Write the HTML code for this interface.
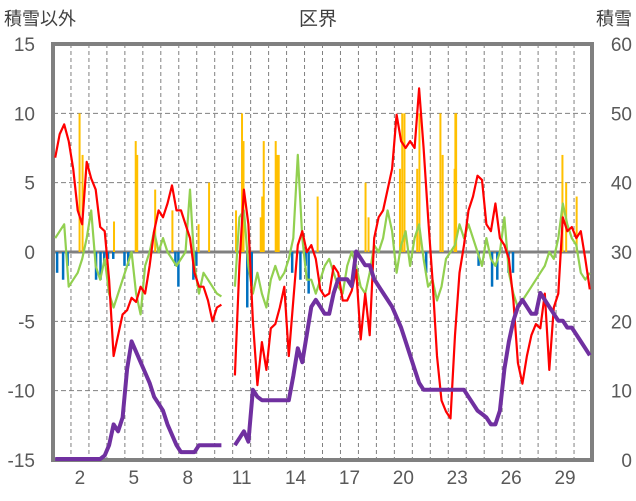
<!DOCTYPE html>
<html><head><meta charset="utf-8"><style>
html,body{margin:0;padding:0;background:#fff;}
svg{display:block;font-family:"Liberation Sans","Noto Sans CJK JP",sans-serif;}
</style></head><body>
<svg id="chart" width="636" height="501" viewBox="0 0 636 501">
<text x="318" y="25" text-anchor="middle" font-size="19" fill="#404040">区界</text>
<text x="4" y="25" font-size="18" fill="#404040">積雪以外</text>
<text x="632" y="25" text-anchor="end" font-size="18" fill="#404040">積雪</text>
<g id="grid"></g>
<rect x="53" y="44" width="539" height="416" fill="none" stroke="#808080" stroke-width="4"/>
<g id="bars"></g><g id="lines"></g><g id="ticks"></g>
</svg>
<script>
const leftTicks=[15,10,5,0,-5,-10,-15];
const rightTicks=[60,50,40,30,20,10,0];
const dayLabels=[2,5,8,11,14,17,20,23,26,29];
const redSeries=[6.8,8.5,9.2,8,6,3,2,6.5,5.3,4.5,1.8,1.5,-2,-7.5,-6,-4.5,-4.2,-3.3,-3.6,-2.5,-3,-1,1.5,3,2.5,3.5,4.8,3,3,2,1,-1.5,-2.5,-2.5,-3.5,-5,-4,-3.8,null,null,-8.9,-1,4.5,2,-5,-9.6,-6.5,-8.5,-5.5,-5.2,-4,-2.5,-7.5,-3.5,0.5,1.5,0,0.5,-0.5,-2.7,-3.2,-3,-1,-1.5,-3.5,-3.5,-2.8,-1.3,-6.3,-3,-6,1,2.5,3,4.5,6,9.9,8,7.5,8,7.5,11.8,7.5,2.5,-2,-7.5,-10.7,-11.5,-12,-6,-1.5,0.5,3,4,5.5,5.2,2,1.5,3.5,1,0.5,-0.5,-3.5,-8,-9.5,-7.5,-6,-5.2,-5.5,-3,-8.5,-4,-3,2.5,1.5,1.8,1,1.5,-0.5,-2.7];
const greenSeries=[1,1.5,2,-2.5,-2,-1.5,-0.5,1,3,-1,-2,-0.5,-3,-4,-3,-2,-1,0,-3,-4.5,-1,0,1.5,0,1,0,-0.5,-1,-0.5,0,4.5,-1,-3,-1.5,-2,-2.5,-3,-3.2,null,null,-2.5,2.5,3,-1,-3,-1.5,-3,-4,-2,-1,-2,-1.5,-0.5,1,7,1,-2,-2,-3,-2,-1,-0.5,-1.5,-2.5,-3,-1,0,-1,-2.5,-3,-1.5,0.5,0,1,3,1.5,-1.5,0.5,1.5,-1,1,2,-0.5,-2.5,-2,-3.5,-2.5,-0.5,0,0.5,2,1,2,1,0,-1,1,-0.5,-1,0,2.5,-1.5,-3,-4,-3.5,-3,-2.5,-2,-1.5,-1,0,-0.5,1,3.5,2,1,0.5,-1.5,-2,-1.5];
const snowDepth=[0,0,0,0,0,0,0,0,0,0,0,0.5,2,5,4,6,13,17,15.5,14,12.5,11,9,8,7,5,3.5,2,1,1,1,1,2,2,2,2,2,2,null,null,2,3,4,2.5,10,9,8.5,8.5,8.5,8.5,8.5,8.5,8.5,12,16,14,18,22,23,22,21,21,24,26,26,26,25,30,29,28,28,26,25,24,23,22,20.5,19,17,15,13,11,10,10,10,10,10,10,10,10,10,10,9,8,7,6.5,6,5,5,7,13,17,20,22,23,22,21,21,24,23,22,21,20,20,19,19,18,17,16,15];
const snowfallHours=[35,39,81,110,112,136,159,194,208,244,252,254,277,279,281,297,299,301,353,417,421,463,466,469,486,489,517,520,536,537,538,680,685,699];
const snowfallValues=[10,7,2.2,8,7,4.5,3,2,5,3,10,8,2.5,4,8,8,7,7,4,5,2.5,6,10,10,6,10,10,7,6,10,10,7,5,4];
const negHours=[5,13,19,57,63,68,73,80,95,100,163,167,187,191,259,265,319,330,337,341,498,568,586,593,608,614];
const negValues=[-1.5,-2,-1,-2,-2,-1,-0.5,-0.5,-1,-1,-1,-2.5,-2,-1,-4,-2.5,-1.5,-2,-1,-3,-1.5,-1,-2.5,-2,-1.5,-1.5];

const X0=53,X1=592,Y0=44,Y1=460,NS='http://www.w3.org/2000/svg';
const yL=v=>Y1-(v+15)/30*(Y1-Y0);
const yR=v=>Y1-1-v/60*(Y1-Y0-1);
const xDay=d=>X0+(d-0.5)*(X1-X0)/30;
const xIdx=i=>X0+(i+0.5)*(X1-X0)/120;
const xHour=h=>X0+(h+0.5)*(X1-X0)/720;
function mk(tag,attrs,parent){const e=document.createElementNS(NS,tag);for(const k in attrs)e.setAttribute(k,attrs[k]);parent.appendChild(e);return e;}
const grid=document.getElementById('grid'),bars=document.getElementById('bars'),lines=document.getElementById('lines'),ticks=document.getElementById('ticks');
for(let d=1;d<30;d++){const x=X0+d*(X1-X0)/30;const l=mk('line',{x1:x,x2:x,y1:Y0,y2:Y1,stroke:'#808080','stroke-width':1,'stroke-dasharray':'4,3'},grid);

}
leftTicks.forEach(v=>{const y=yL(v);
if(v!==15&&v!==-15&&v!==0){const l=mk('line',{x1:X0,x2:X1,y1:y,y2:y,stroke:'#808080','stroke-width':1,'stroke-dasharray':'5,3'},grid);

}
const t=mk('text',{x:35,y:y+7,'text-anchor':'end','font-size':19,fill:'#595959'},ticks);t.textContent=v;

});
rightTicks.forEach(v=>{const t=mk('text',{x:632,y:Y1-v/60*(Y1-Y0)+7,'text-anchor':'end','font-size':19,fill:'#595959'},ticks);t.textContent=v;

});
dayLabels.forEach(d=>{const t=mk('text',{x:xDay(d),y:484,'text-anchor':'middle','font-size':19,fill:'#595959'},ticks);t.textContent=d;

});
const zl=mk('line',{x1:X0,x2:X1,y1:yL(0),y2:yL(0),stroke:'#808080','stroke-width':3},grid);


snowfallHours.forEach((h,i)=>{const y=yL(snowfallValues[i]);const r=mk('rect',{x:xHour(h)-1,y:y,width:2,height:yL(0)-y,fill:'#ffc000'},bars);

});
negHours.forEach((h,i)=>{const y=yL(negValues[i]);const r=mk('rect',{x:xHour(h)-1.25,y:yL(0),width:2.5,height:y-yL(0),fill:'#0070c0'},bars);

});
function path(arr,yf){let d='',pen=false;arr.forEach((v,i)=>{if(v===null){pen=false;return;}d+=(pen?'L':'M')+xIdx(i).toFixed(1)+','+yf(v).toFixed(1);pen=true;});return d;}
const g=mk('path',{d:path(greenSeries,yL),fill:'none',stroke:'#92d050','stroke-width':2.2,'stroke-linejoin':'round'},lines);


const r=mk('path',{d:path(redSeries,yL),fill:'none',stroke:'#ff0000','stroke-width':2.2,'stroke-linejoin':'round'},lines);


const p=mk('path',{d:path(snowDepth,yR),fill:'none',stroke:'#7030a0','stroke-width':4,'stroke-linejoin':'round'},lines);


</script>
</body></html>
